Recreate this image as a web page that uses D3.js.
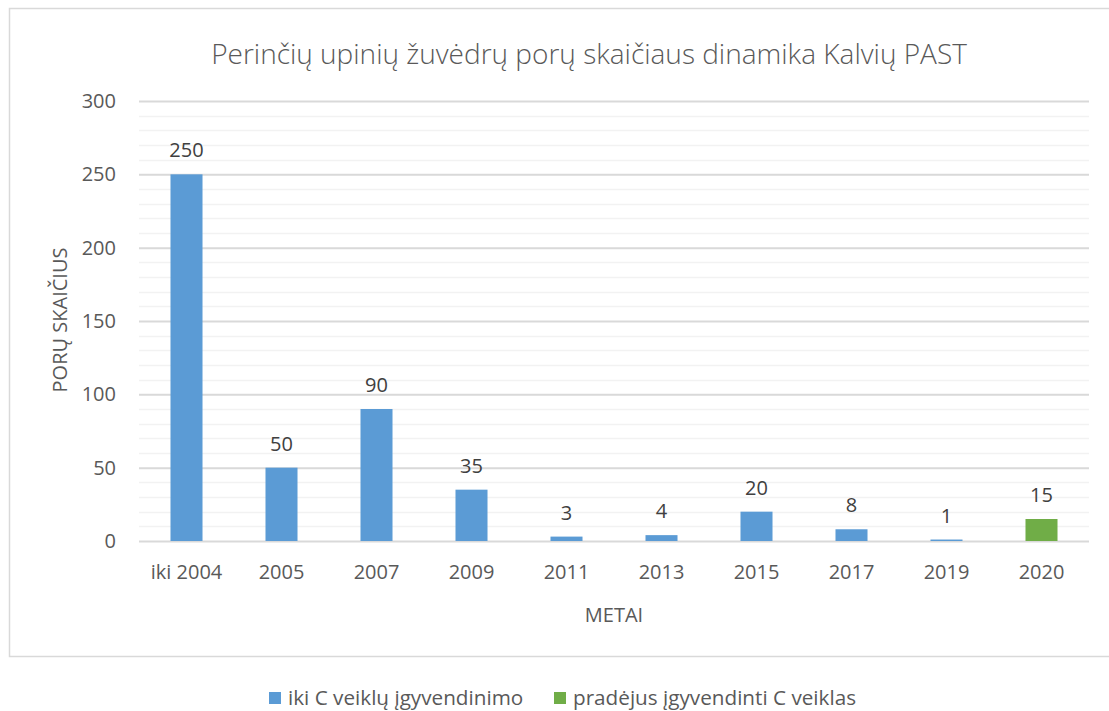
<!DOCTYPE html>
<html>
<head>
<meta charset="utf-8">
<script src="https://cdn.jsdelivr.net/npm/d3@7"></script>
<style>
  body { margin: 0; background: #fff; }
  text { font-family: "Open Sans", sans-serif; }
</style>
</head>
<body>
<div id="chart"></div>
<script>
// data
var years = ["iki 2004", "2005", "2007", "2009", "2011", "2013", "2015", "2017", "2019", "2020"];
var beforeC = [250, 50, 90, 35, 3, 4, 20, 8, 1, null];
var afterC = [null, null, null, null, null, null, null, null, null, 15];
var seriesNames = ["iki C veiklų įgyvendinimo", "pradėjus įgyvendinti C veiklas"];
var seriesColors = ["#5B9BD5", "#70AD47"];
var yTicks = [0, 50, 100, 150, 200, 250, 300];

// dimensions
var W = 1109, H = 711;
var margin = {top: 101, right: 20, bottom: 170, left: 139},
    width = 1089 - margin.left,
    height = 541 - margin.top;

var svg = d3.select("#chart")
  .append("svg")
    .attr("width", W)
    .attr("height", H);

// chart frame
svg.append("rect")
  .attr("x", 9.5).attr("y", 8.5)
  .attr("width", 1120).attr("height", 648)
  .attr("fill", "none")
  .attr("stroke", "#D9D9D9")
  .attr("stroke-width", 1.5);

var g = svg.append("g")
  .attr("transform", "translate(" + margin.left + "," + margin.top + ")");

var x = d3.scaleBand()
  .domain(years)
  .range([0, width])
  .paddingInner(0.663)
  .paddingOuter(0.3315);

var y = d3.scaleLinear()
  .domain([0, 300])
  .range([height, 0]);

// minor gridlines
g.append("g")
  .selectAll("line")
  .data(d3.range(0, 301, 10).filter(function(d) { return d % 50 != 0; }))
  .enter().append("line")
    .attr("x1", 0).attr("x2", width)
    .attr("y1", function(d) { return Math.round(y(d)) + 0.5; })
    .attr("y2", function(d) { return Math.round(y(d)) + 0.5; })
    .attr("stroke", "#F2F2F2")
    .attr("stroke-width", 1.5);

// major gridlines + y labels
var yAxis = g.append("g")
  .call(d3.axisLeft(y).tickValues(yTicks).tickSize(-width).tickPadding(23));
yAxis.select(".domain").remove();
yAxis.selectAll(".tick line")
  .attr("stroke", "#D9D9D9")
  .attr("stroke-width", 2);
yAxis.selectAll(".tick text")
  .attr("fill", "#595959")
  .style("font-size", "20px")
  .style("font-family", "Open Sans");

// x axis labels
var xAxis = g.append("g")
  .attr("transform", "translate(0," + height + ")")
  .call(d3.axisBottom(x).tickSize(0).tickPadding(24));
xAxis.select(".domain").remove();
xAxis.selectAll(".tick text")
  .attr("fill", "#595959")
  .style("font-size", "20px")
  .style("font-family", "Open Sans");

// bars
[beforeC, afterC].forEach(function(vals, i) {
  var rows = years.map(function(c, j) { return {cat: c, v: vals[j]}; })
    .filter(function(d) { return d.v != null; });

  g.append("g")
    .selectAll("rect")
    .data(rows)
    .enter().append("rect")
      .attr("x", function(d) { return x(d.cat); })
      .attr("y", function(d) { return y(d.v); })
      .attr("width", x.bandwidth())
      .attr("height", function(d) { return y(0) - y(d.v); })
      .attr("fill", seriesColors[i]);

  g.append("g")
    .selectAll("text")
    .data(rows)
    .enter().append("text")
      .attr("x", function(d) { return x(d.cat) + x.bandwidth() / 2; })
      .attr("y", function(d) { return y(d.v) - 17; })
      .attr("text-anchor", "middle")
      .attr("fill", "#404040")
      .style("font-size", "20px")
      .text(function(d) { return d.v; });
});

// title
svg.append("text")
  .attr("x", 589)
  .attr("y", 64)
  .attr("text-anchor", "middle")
  .attr("fill", "#595959")
  .style("font-size", "28px")
  .style("font-weight", 300)
  .text("Perinčių upinių žuvėdrų porų skaičiaus dinamika Kalvių PAST");

// axis titles
svg.append("text")
  .attr("transform", "translate(67,320) rotate(-90)")
  .attr("text-anchor", "middle")
  .attr("fill", "#595959")
  .style("font-size", "20px")
  .text("PORŲ SKAIČIUS");

svg.append("text")
  .attr("x", 614)
  .attr("y", 622)
  .attr("text-anchor", "middle")
  .attr("fill", "#595959")
  .style("font-size", "20px")
  .text("METAI");

// legend
var legendX = [269, 554];
var legend = svg.append("g");
seriesNames.forEach(function(name, i) {
  legend.append("rect")
    .attr("x", legendX[i]).attr("y", 692)
    .attr("width", 12).attr("height", 12)
    .attr("fill", seriesColors[i]);
  legend.append("text")
    .attr("x", legendX[i] + 19)
    .attr("y", 705)
    .attr("fill", "#595959")
    .style("font-size", "20.7px")
    .text(name);
});
</script>
</body>
</html>
